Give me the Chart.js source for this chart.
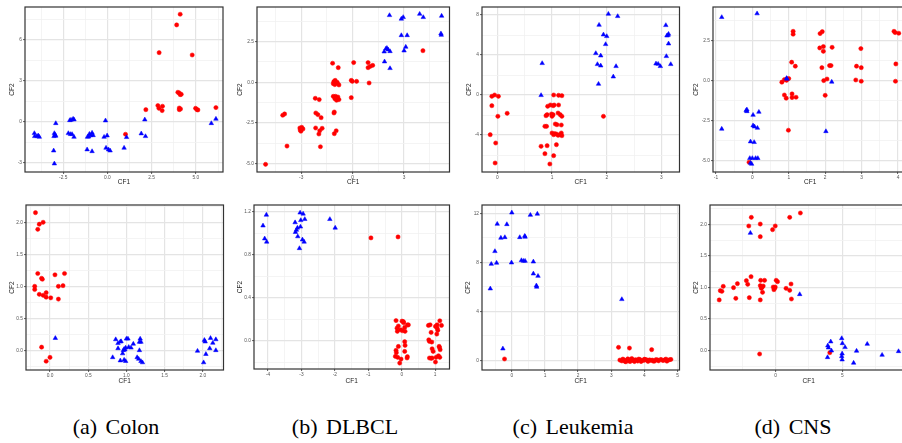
<!DOCTYPE html>
<html>
<head>
<meta charset="utf-8">
<script src="https://cdn.jsdelivr.net/npm/chart.js@4.4.1/dist/chart.umd.min.js"></script>
<style>
  body { margin: 0; width: 902px; height: 443px; overflow: hidden; background: #fff; position: relative; }
  canvas { position: absolute; }
  .cap { position: absolute; top: 414px; width: 220px; text-align: center; font-family: "Liberation Serif", serif; font-size: 22px; word-spacing: 3px; color: #000; }
</style>
</head>
<body>
<canvas id="colonTop"></canvas>
<canvas id="dlbclTop"></canvas>
<canvas id="leukTop"></canvas>
<canvas id="cnsTop"></canvas>
<canvas id="colonBot"></canvas>
<canvas id="dlbclBot"></canvas>
<canvas id="leukBot"></canvas>
<canvas id="cnsBot"></canvas>
<div class="cap" style="left:6px">(a) Colon</div>
<div class="cap" style="left:235px">(b) DLBCL</div>
<div class="cap" style="left:463px">(c) Leukemia</div>
<div class="cap" style="left:683px">(d) CNS</div>
<script>
// tick labels
const colonTopX = ['-2.5', '0.0', '2.5', '5.0'];
const colonTopY = ['-3', '0', '3', '6'];
const dlbclTopX = ['-3', '0', '3'];
const dlbclTopY = ['-5.0', '-2.5', '0.0', '2.5'];
const leukTopX = ['0', '1', '2', '3'];
const leukTopY = ['-4', '0', '4', '8'];
const cnsTopX = ['-1', '0', '1', '2', '3', '4'];
const cnsTopY = ['-5.0', '-2.5', '0.0', '2.5'];
const colonBotX = ['0.0', '0.5', '1.0', '1.5', '2.0'];
const colonBotY = ['0.0', '0.5', '1.0', '1.5', '2.0'];
const dlbclBotX = ['-4', '-3', '-2', '-1', '0', '1'];
const dlbclBotY = ['0.0', '0.4', '0.8', '1.2'];
const leukBotX = ['0', '1', '2', '3', '4', '5'];
const leukBotY = ['0', '4', '8', '12'];
const cnsBotX = ['0', '5'];
const cnsBotY = ['0.0', '0.5', '1.0', '1.5', '2.0'];

// points [CF1, CF2]
const colonTopRed = [[4.11,7.88],[3.91,7.10],[2.92,5.07],[4.79,4.90],[3.98,2.17],[4.06,2.12],[4.11,2.00],[4.17,2.02],
  [2.85,1.20],[2.91,1.00],[3.11,1.15],[3.09,0.83],[2.17,0.90],[4.06,1.02],[4.06,0.90],[4.13,0.95],[4.98,1.00],
  [5.06,0.90],[5.11,0.88],[6.13,1.05],[1.02,-0.90]];
const colonTopBlue = [[-4.13,-0.83],[-4.11,-1.05],[-3.98,-1.05],[-3.91,-1.00],[-3.85,-1.10],[-2.92,-0.10],[-3.00,-0.83],
  [-2.96,-0.95],[-2.92,-1.02],[-3.02,-1.05],[-3.04,-2.10],[-3.00,-3.05],[-2.13,0.12],[-2.06,0.15],[-1.94,0.22],[-1.89,0.17],
  [-2.21,-0.83],[-2.09,-0.90],[-2.00,-0.90],[-1.89,-1.10],[-1.15,-2.02],[-0.87,-2.15],[-1.13,-1.10],[-1.02,-0.88],
  [-0.94,-0.98],[-0.87,-0.80],[-0.81,-0.98],[-1.06,-1.08],[-0.11,0.10],[-0.19,-1.10],[-0.02,-1.00],[-0.08,-1.90],
  [0.06,-2.02],[0.15,-2.10],[0.94,-1.90],[1.08,-1.12],[1.91,-0.85],[2.15,-1.05],[2.11,0.17],[5.87,-0.10],[6.13,0.22]];

const dlbclTopRed = [[-5.08,-5.03],[-3.83,-3.91],[-4.08,-2.02],[-3.97,-1.94],[-3.08,-2.80],[-2.97,-2.76],[-2.90,-2.86],
  [-3.02,-3.00],[-3.06,-2.92],[-2.18,-0.98],[-1.95,-1.06],[-2.15,-1.88],[-2.03,-1.98],[-1.84,-2.17],[-2.16,-2.80],
  [-1.97,-3.17],[-1.92,-2.97],[-1.78,-2.82],[-1.88,-3.95],[-1.17,1.17],[-0.84,0.90],[-1.10,0.04],[-1.00,-0.06],
  [-1.13,-0.08],[-0.90,0.00],[-0.80,-0.16],[-1.04,-0.14],[-0.92,-0.04],[-1.02,0.12],[-1.13,-0.86],[-1.00,-0.86],
  [-0.90,-0.96],[-0.80,-1.06],[-1.04,-1.00],[-0.94,-1.10],[-0.86,-0.90],[-1.07,-1.82],[-1.09,-1.88],[-1.07,-3.15],
  [-0.96,-2.97],[-0.08,-0.94],[0.06,1.21],[-0.08,0.12],[-0.02,0.06],[0.23,0.06],[0.90,1.21],[0.90,0.90],[1.03,0.98],
  [1.17,1.04],[0.96,-0.04],[4.10,1.94]];
const dlbclTopBlue = [[2.15,4.11],[2.84,3.89],[2.95,3.99],[3.91,4.19],[4.12,3.99],[5.19,4.07],[2.84,2.88],[3.18,2.88],
  [5.15,2.99],[5.17,2.90],[1.86,1.27],[1.84,1.88],[1.94,2.06],[2.07,2.00],[2.18,1.90],[2.00,2.10],[2.18,0.86],
  [3.00,1.94],[3.10,2.17]];

const leukTopRed = [[-0.10,-0.13],[-0.05,0.00],[0.02,-0.13],[-0.10,-1.07],[0.01,-2.13],[0.18,-1.83],[-0.13,-3.97],
  [-0.03,-4.80],[-0.04,-6.80],[1.03,0.00],[1.12,-0.03],[1.18,-0.07],[0.92,-1.13],[0.97,-1.00],[1.02,-1.07],[1.04,-1.00],
  [1.12,-1.00],[0.89,-2.07],[0.91,-1.97],[0.99,-1.90],[1.00,-2.13],[1.11,-1.80],[1.15,-1.97],[1.18,-2.13],[1.02,-1.97],
  [0.87,-3.13],[0.90,-3.13],[1.06,-2.90],[1.09,-2.97],[1.17,-3.00],[1.00,-3.80],[1.03,-3.97],[1.05,-3.87],[1.11,-4.03],
  [1.14,-3.97],[1.17,-3.80],[1.18,-4.07],[1.08,-3.90],[0.80,-5.13],[0.91,-5.07],[1.08,-4.97],[0.87,-5.87],[1.03,-6.07],
  [0.96,-6.90],[1.94,-2.13]];
const leukTopBlue = [[0.82,3.17],[0.80,-0.03],[1.85,1.10],[2.12,1.83],[2.03,8.10],[2.20,7.87],[1.86,7.00],[1.94,6.03],
  [2.00,5.87],[1.98,5.07],[1.80,4.17],[1.89,3.93],[1.83,3.07],[1.89,2.93],[2.17,2.87],[3.08,6.97],[3.13,6.10],[3.12,5.97],
  [3.10,5.93],[3.13,5.13],[3.09,3.87],[2.90,3.13],[2.94,3.10],[2.98,2.87],[3.17,3.07]];

const cnsTopRed = [[-0.09,-5.10],[1.12,3.08],[1.12,2.90],[1.86,2.94],[1.92,3.06],[1.85,2.04],[1.95,2.13],[2.19,2.08],
  [1.95,1.83],[2.98,2.00],[1.08,1.15],[1.18,0.90],[1.91,0.81],[2.12,0.94],[2.16,0.94],[2.86,0.90],[2.99,0.81],
  [0.81,-0.10],[0.88,0.06],[0.94,0.02],[1.00,0.13],[0.95,0.10],[0.88,-0.90],[0.93,-1.10],[1.09,-0.83],[1.09,-1.06],
  [1.20,-1.04],[0.99,-3.10],[1.96,0.00],[2.05,0.10],[2.00,-0.92],[2.84,0.04],[2.99,-0.04],[3.89,3.08],[3.92,3.00],
  [4.02,2.96],[3.94,1.04],[3.93,-0.04]];
const cnsTopBlue = [[-0.84,3.96],[0.13,4.19],[-0.84,-3.02],[-0.15,-1.81],[-0.15,-1.92],[-0.17,-1.87],[0.02,-2.15],
  [0.18,-1.96],[0.02,-2.81],[0.06,-2.88],[0.14,-2.96],[-0.05,-3.81],[0.05,-3.85],[-0.07,-4.85],[0.00,-4.85],[0.09,-4.85],
  [0.15,-4.85],[-0.05,-5.15],[-0.02,-5.21],[0.94,0.15],[0.95,0.10],[2.18,-0.08],[2.02,-3.17]];

const colonBotRed = [[-0.19,2.15],[-0.14,1.97],[-0.09,2.00],[-0.16,1.89],[-0.16,1.20],[-0.11,1.125],[-0.10,1.11],
  [0.065,1.18],[0.19,1.20],[-0.20,1.00],[-0.20,0.95],[0.11,1.00],[0.17,1.01],[-0.14,0.875],[-0.09,0.86],[-0.05,0.90],
  [-0.05,0.83],[0.01,0.82],[0.11,0.80],[-0.11,0.05],[0.00,-0.11],[-0.05,-0.17]];
const colonBotBlue = [[0.07,0.19],[0.86,0.17],[0.89,0.11],[0.92,0.135],[0.93,0.14],[1.00,0.18],[1.02,0.18],[1.09,0.10],
  [1.06,0.04],[0.99,0.04],[0.97,0.02],[0.98,0.01],[0.95,-0.05],[0.89,0.03],[0.82,-0.11],[0.92,-0.16],[0.97,-0.15],
  [0.99,-0.17],[1.17,0.00],[1.14,-0.11],[1.16,-0.135],[1.19,-0.17],[1.21,-0.19],[1.17,0.13],[1.19,0.13],[1.18,0.18],
  [0.96,0.00],[1.03,0.05],[2.02,0.16],[2.03,0.135],[2.10,0.19],[2.13,0.115],[2.17,0.17],[2.09,0.03],[2.17,0.00],
  [1.93,-0.01],[2.04,-0.06],[2.01,-0.19]];

const dlbclBotRed = [[-0.92,0.957],[-0.11,0.966],[-0.17,0.19],[-0.10,0.14],[-0.13,0.09],[-0.03,0.105],[0.02,0.096],
  [0.09,0.127],[0.01,0.185],[0.05,0.18],[0.17,0.15],[0.20,0.15],[0.10,0.09],[0.09,-0.006],[0.10,-0.04],[0.09,-0.096],
  [-0.10,-0.05],[-0.17,-0.086],[-0.16,-0.108],[-0.19,-0.142],[-0.12,-0.151],[-0.06,-0.204],[-0.02,-0.167],[0.16,-0.157],
  [0.17,-0.145],[-0.14,0.12],[0.06,0.17],[0.80,0.145],[0.85,0.151],[0.88,0.08],[1.01,0.136],[1.06,0.12],[1.06,0.151],
  [1.14,0.188],[1.19,0.145],[1.05,0.065],[0.81,0.012],[0.83,-0.003],[0.90,-0.009],[0.91,-0.071],[0.94,-0.096],
  [1.12,-0.049],[1.15,-0.08],[1.10,-0.136],[1.14,-0.151],[1.03,-0.151],[1.01,-0.194],[0.91,-0.157],[0.88,-0.16],
  [0.83,-0.157],[1.08,0.10],[1.13,-0.06]];
const dlbclBotBlue = [[-4.05,1.17],[-4.15,1.07],[-4.10,0.95],[-4.04,0.92],[-3.04,1.19],[-2.95,1.18],[-3.19,1.10],
  [-2.90,1.13],[-3.02,1.12],[-3.03,1.06],[-3.12,1.05],[-3.15,1.03],[-3.18,1.01],[-3.11,0.97],[-2.97,0.94],[-2.92,0.92],
  [-3.06,0.86],[-2.15,1.13],[-1.99,1.05]];

const leukBotRed = [[-0.22,0.11],[3.22,1.06],[3.55,1.00],[4.22,0.87],[3.26,0.02],[3.32,-0.05],[3.38,0.03],[3.41,-0.08],
  [3.47,0.02],[3.53,-0.05],[3.59,0.06],[3.63,0.05],[3.66,-0.02],[3.70,-0.10],[3.75,0.03],[3.80,-0.06],[3.87,0.06],
  [3.93,-0.02],[3.99,0.00],[4.05,0.06],[4.11,-0.09],[4.19,0.00],[4.27,-0.07],[4.35,0.06],[4.43,-0.04],[4.50,0.07],
  [4.61,0.03],[4.68,-0.07],[4.75,0.04],[4.80,0.07],[3.35,0.10],[3.44,-0.12],[3.50,0.12],[3.57,-0.10],[3.62,0.15],
  [3.72,0.04],[3.83,0.10],[3.90,-0.10],[4.00,0.09],[4.08,0.01],[4.15,0.03],[4.24,0.02],[4.31,-0.06],[4.40,0.03],
  [4.56,-0.02],[4.65,0.10]];
const leukBotBlue = [[0.00,12.05],[0.56,11.86],[0.77,11.95],[-0.44,11.13],[-0.15,11.10],[-0.33,9.99],[-0.21,10.04],
  [0.24,10.04],[0.39,10.15],[0.40,10.07],[-0.51,8.90],[-0.62,7.86],[-0.46,7.95],[-0.01,7.97],[0.29,8.16],[0.40,8.11],
  [0.65,8.05],[0.35,8.11],[0.65,7.07],[0.79,6.88],[0.74,6.10],[0.75,5.99],[-0.65,5.85],[3.32,4.98],[-0.27,0.95]];

const cnsBotRed = [[-4.21,0.80],[-4.13,0.947],[-4.01,0.937],[-3.91,1.016],[-3.14,0.995],[-2.97,0.825],[-2.85,1.058],
  [-2.18,1.106],[-2.08,1.048],[-1.96,0.836],[-1.83,1.169],[-2.00,1.974],[-1.81,2.111],[-1.14,2.005],[-1.14,1.804],
  [-1.11,1.111],[-1.14,1.026],[-1.01,1.00],[-0.92,1.021],[-1.06,0.984],[-0.97,0.921],[-0.82,1.111],[-1.14,0.80],
  [-1.19,-0.058],[-0.22,1.915],[-0.02,1.974],[-0.17,1.005],[-0.07,0.984],[-0.02,1.005],[-0.12,0.963],[0.05,1.111],
  [0.15,1.09],[0.79,0.984],[1.06,0.952],[1.16,1.053],[1.19,0.815],[1.06,2.111],[1.86,2.18],[4.06,-0.037]];
const cnsBotBlue = [[-1.88,1.862],[1.81,0.889],[4.95,0.19],[5.00,0.111],[4.13,0.138],[3.91,0.074],[3.96,0.042],
  [4.18,-0.005],[3.89,-0.111],[5.20,0.048],[4.98,-0.053],[4.95,-0.095],[4.98,-0.148],[6.06,-0.01],[5.84,-0.20],
  [6.86,0.10],[7.97,-0.074],[9.20,-0.016]];

// panel boxes (page px) and axis ranges
const panels = [
  { id: 'colonTop', x0: 0, y0: 0, w: 228, h: 195, L: 25, R: 223, T: 7, B: 172, xr: [-4.66, 6.53], yr: [-3.66, 8.41], xl: colonTopX, yl: colonTopY, tx: 12.7, ty: 182, red: colonTopRed, blue: colonTopBlue },
  { id: 'dlbclTop', x0: 228, y0: 0, w: 226, h: 195, L: 257, R: 452, T: 7, B: 172, xr: [-5.58, 5.65], yr: [-5.50, 4.62], xl: dlbclTopX, yl: dlbclTopY, tx: 240.7, ty: 182, red: dlbclTopRed, blue: dlbclTopBlue },
  { id: 'leukTop', x0: 456, y0: 0, w: 228, h: 195, L: 482, R: 681, T: 7, B: 172, xr: [-0.28, 3.33], yr: [-7.7, 8.8], xl: leukTopX, yl: leukTopY, tx: 469, ty: 182, red: leukTopRed, blue: leukTopBlue },
  { id: 'cnsTop', x0: 686, y0: 0, w: 226, h: 195, L: 713, R: 909, T: 7, B: 172, xr: [-1.08, 4.26], yr: [-5.71, 4.6], xl: cnsTopX, yl: cnsTopY, tx: 696.7, ty: 182, red: cnsTopRed, blue: cnsTopBlue },
  { id: 'colonBot', x0: 0, y0: 195, w: 228, h: 200, L: 26, R: 224, T: 205, B: 370, xr: [-0.314, 2.27], yr: [-0.307, 2.27], xl: colonBotX, yl: colonBotY, tx: 12.3, ty: 381, red: colonBotRed, blue: colonBotBlue },
  { id: 'dlbclBot', x0: 228, y0: 195, w: 226, h: 200, L: 254, R: 452, T: 205, B: 369, xr: [-4.42, 1.43], yr: [-0.259, 1.262], xl: dlbclBotX, yl: dlbclBotY, tx: 240, ty: 381, red: dlbclBotRed, blue: dlbclBotBlue },
  { id: 'leukBot', x0: 456, y0: 195, w: 228, h: 200, L: 482, R: 681, T: 205, B: 370, xr: [-0.90, 5.06], yr: [-0.79, 12.68], xl: leukBotX, yl: leukBotY, tx: 468.3, ty: 381, red: leukBotRed, blue: leukBotBlue },
  { id: 'cnsBot', x0: 686, y0: 195, w: 226, h: 200, L: 710, R: 909, T: 205, B: 370, xr: [-4.9, 9.87], yr: [-0.312, 2.307], xl: cnsBotX, yl: cnsBotY, tx: 696.7, ty: 381, red: cnsBotRed, blue: cnsBotBlue }
];

Chart.defaults.font.family = '"Liberation Sans", Arial, sans-serif';

// major breaks from the labels, minor breaks halfway, like ggplot
function breaks(labels, min, max) {
  const major = labels.map(Number);
  const half = (major[1] - major[0]) / 2;
  const out = [];
  for (let k = -2; k <= 2 * (major.length - 1) + 2; k++) {
    const v = major[0] + k * half;
    if (v < min || v > max) continue;
    const minor = k % 2 !== 0;
    out.push({ value: v, minor: minor, txt: minor ? '' : (labels[k / 2] || '') });
  }
  return out;
}

const frame = {
  id: 'frame',
  afterDatasetsDraw(chart) {
    const a = chart.chartArea;
    const ctx = chart.ctx;
    ctx.save();
    ctx.strokeStyle = '#333333';
    ctx.lineWidth = 1.2;
    ctx.strokeRect(a.left, a.top, a.right - a.left, a.bottom - a.top);
    ctx.restore();
  }
};

function axis(p, horizontal) {
  const br = horizontal ? breaks(p.xl, p.xr[0], p.xr[1]) : breaks(p.yl, p.yr[0], p.yr[1]);
  const range = horizontal ? p.xr : p.yr;
  return {
    type: 'linear',
    position: horizontal ? 'bottom' : 'left',
    min: range[0],
    max: range[1],
    afterBuildTicks: (ax) => { ax.ticks = br.map(t => ({ value: t.value, minor: t.minor, txt: t.txt })); },
    afterFit: (ax) => {
      if (horizontal) ax.height = p.y0 + p.h - p.B;
      else ax.width = p.L - p.x0;
      ax.paddingLeft = 0; ax.paddingRight = 0; ax.paddingTop = 0; ax.paddingBottom = 0;
    },
    border: { display: false },
    grid: {
      color: (c) => c.tick && c.tick.minor ? '#f1f1f1' : '#e4e4e4',
      lineWidth: (c) => c.tick && c.tick.minor ? 0.8 : 1.2,
      tickColor: (c) => c.tick && c.tick.minor ? 'rgba(0,0,0,0)' : '#333333',
      tickLength: 2,
      tickWidth: 0.8
    },
    ticks: {
      autoSkip: false,
      maxRotation: 0,
      padding: 1,
      color: '#555555',
      font: { size: 4.8 },
      callback: (v, i, ticks) => ticks[i].txt
    },
    title: {
      display: true,
      text: horizontal ? 'CF1' : 'CF2',
      color: '#1a1a1a',
      font: { size: 6.5, lineHeight: 1 },
      padding: horizontal
        ? { top: 0, bottom: (p.y0 + p.h) - p.ty - 3.25 }
        : { top: p.tx - p.x0 - 3.25, bottom: 0 }
    }
  };
}

panels.forEach(function (p) {
  const canvas = document.getElementById(p.id);
  canvas.width = p.w;
  canvas.height = p.h;
  canvas.style.left = p.x0 + 'px';
  canvas.style.top = p.y0 + 'px';
  canvas.style.width = p.w + 'px';
  canvas.style.height = p.h + 'px';

  new Chart(canvas, {
    type: 'scatter',
    data: {
      datasets: [
        {
          data: p.blue.map(d => ({ x: d[0], y: d[1] })),
          pointStyle: 'triangle',
          pointRadius: 2.6,
          backgroundColor: '#0000ff',
          borderColor: '#0000ff',
          borderWidth: 0.5
        },
        {
          data: p.red.map(d => ({ x: d[0], y: d[1] })),
          pointStyle: 'circle',
          pointRadius: 2.1,
          backgroundColor: '#ff0000',
          borderColor: '#ff0000',
          borderWidth: 0.5
        }
      ]
    },
    options: {
      responsive: false,
      animation: false,
      devicePixelRatio: 1,
      events: [],
      layout: { padding: { left: 0, top: p.T - p.y0, right: p.x0 + p.w - p.R, bottom: 0 } },
      plugins: { legend: { display: false }, tooltip: { enabled: false } },
      scales: { x: axis(p, true), y: axis(p, false) }
    },
    plugins: [frame]
  });
});
</script>
</body>
</html>
